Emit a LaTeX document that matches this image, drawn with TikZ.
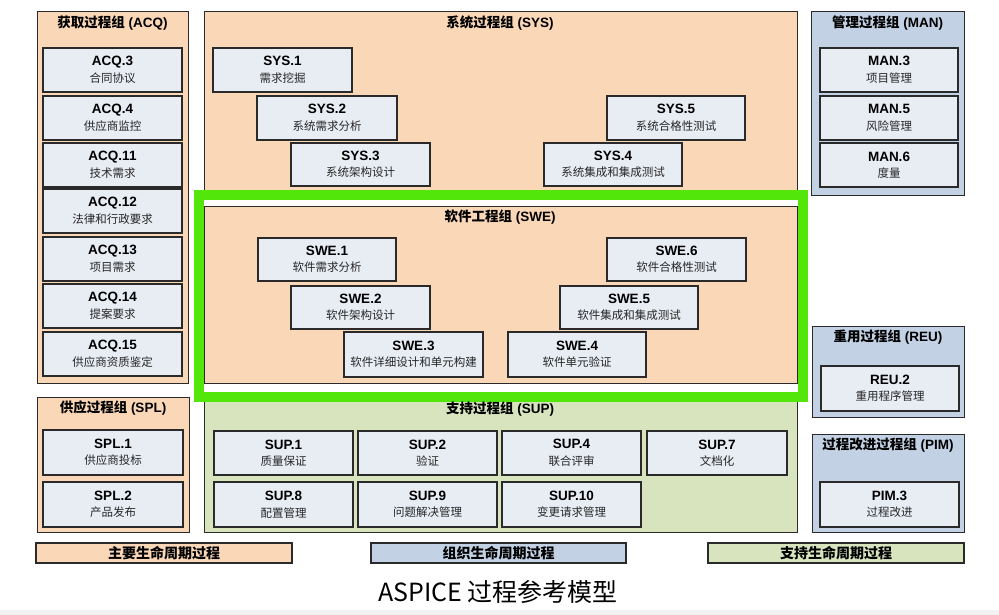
\documentclass[tikz,border=0pt]{standalone}
\usepackage{fontspec}
\setmainfont{Liberation Sans}
\newfontfamily\cjk{Noto Sans CJK SC}
\definecolor{peach}{HTML}{FAD7B7}
\definecolor{grpblue}{HTML}{C2D1E3}
\definecolor{grpgreen}{HTML}{D8E4BD}
\definecolor{inbox}{HTML}{E8EDF4}
\definecolor{frameg}{HTML}{52E60A}
\definecolor{edge}{HTML}{2A2A2A}
\definecolor{strip}{HTML}{F2F2F2}
\tikzset{
  pbox/.style={draw=edge, line width=1.3pt, fill=inbox, inner sep=0pt, align=center,
    font=\fontsize{13.5}{16.5}\selectfont},
  gbox/.style={draw=edge, line width=1pt, inner sep=0pt},
  gtitle/.style={inner sep=0pt, font=\fontsize{13.5}{16}\selectfont},
  legbox/.style={draw=edge, line width=1.2pt, inner sep=0pt,
    font=\cjk\bfseries\fontsize{14}{16}\selectfont},
}
\newcommand\pbox[7]{\node[pbox, minimum width={#4-#2}, minimum height={#5-#3}] (#1)
  at ({(#2+#4)/2},{(#3+#5)/2}) {{\bfseries #6}\\{\cjk\fontsize{11.5}{16.5}\selectfont\color{black!85} #7}};}
\newcommand\gbox[6]{\node[gbox, fill=#6, minimum width={#4-#2}, minimum height={#5-#3}] (#1)
  at ({(#2+#4)/2},{(#3+#5)/2}) {};}
\newcommand\gtitle[4]{\node[gtitle] (#1) at (#2,#3) {#4};}
\newcommand\grp[2]{{\cjk\bfseries #1} {\bfseries (#2)}}
\begin{document}
\begin{tikzpicture}[x=1pt,y=-1pt]
\useasboundingbox (0,0) rectangle (999,615);
\fill[white] (0,0) rectangle (999,615);
\fill[strip] (0,610) rectangle (999,615);

% group boxes
\gbox{acq}{37}{12}{188}{383}{peach}
\gbox{sys}{204}{12}{797}{395}{peach}
\gbox{man}{811}{12}{964}{195}{grpblue}
\gbox{reu}{812}{326}{964}{417}{grpblue}
\gbox{pim}{812}{434}{964}{532}{grpblue}
\gbox{spl}{37}{397}{189}{532}{peach}
\gbox{sup}{204}{397}{797}{532}{grpgreen}

% highlight frame
\node[draw=frameg, line width=10pt, fill=white, inner sep=0pt,
  minimum width=604.5pt, minimum height=202pt] (frame) at (500.75,296) {};
\gbox{swe}{204}{206}{797}{383}{peach}

% group titles
\gtitle{acqt}{112.5}{23}{\grp{获取过程组}{ACQ}}
\gtitle{syst}{500}{23}{\grp{系统过程组}{SYS}}
\gtitle{mant}{887.5}{23}{\grp{管理过程组}{MAN}}
\gtitle{swet}{500}{217}{\grp{软件工程组}{SWE}}
\gtitle{splt}{113}{408}{\grp{供应过程组}{SPL}}
\gtitle{supt}{500}{409}{\grp{支持过程组}{SUP}}
\gtitle{reut}{888}{337}{\grp{重用过程组}{REU}}
\gtitle{pimt}{888}{445}{\grp{过程改进过程组}{PIM}}

% ACQ
\pbox{acq3}{43}{48}{182}{92}{ACQ.3}{合同协议}
\pbox{acq4}{43}{96}{182}{140}{ACQ.4}{供应商监控}
\pbox{acq11}{43}{143}{182}{187}{ACQ.11}{技术需求}
\pbox{acq12}{43}{189}{182}{233}{ACQ.12}{法律和行政要求}
\pbox{acq13}{43}{237}{182}{281}{ACQ.13}{项目需求}
\pbox{acq14}{43}{284}{182}{328}{ACQ.14}{提案要求}
\pbox{acq15}{43}{332}{182}{376}{ACQ.15}{供应商资质鉴定}

% SYS
\pbox{sys1}{213}{48}{352}{92}{SYS.1}{需求挖掘}
\pbox{sys2}{257}{96}{397}{140}{SYS.2}{系统需求分析}
\pbox{sys3}{291}{143}{430}{186}{SYS.3}{系统架构设计}
\pbox{sys4}{544}{143}{682}{186}{SYS.4}{系统集成和集成测试}
\pbox{sys5}{607}{96}{745}{140}{SYS.5}{系统合格性测试}

% MAN
\pbox{man3}{820}{48}{958}{92}{MAN.3}{项目管理}
\pbox{man5}{820}{96}{958}{140}{MAN.5}{风险管理}
\pbox{man6}{820}{143}{958}{187}{MAN.6}{度量}

% SWE
\pbox{swe1}{258}{238}{396}{281}{SWE.1}{软件需求分析}
\pbox{swe2}{291}{286}{430}{329}{SWE.2}{软件架构设计}
\pbox{swe3}{344}{332}{483}{377}{SWE.3}{软件详细设计和单元构建}
\pbox{swe4}{508}{332}{646}{377}{SWE.4}{软件单元验证}
\pbox{swe5}{560}{286}{698}{329}{SWE.5}{软件集成和集成测试}
\pbox{swe6}{607}{238}{746}{281}{SWE.6}{软件合格性测试}

% REU, PIM
\pbox{reu2}{821}{366}{959}{411}{REU.2}{重用程序管理}
\pbox{pim3}{820}{482}{959}{527}{PIM.3}{过程改进}

% SPL
\pbox{spl1}{43}{430}{183}{475}{SPL.1}{供应商投标}
\pbox{spl2}{43}{482}{183}{527}{SPL.2}{产品发布}

% SUP
\pbox{sup1}{214}{431}{353}{475}{SUP.1}{质量保证}
\pbox{sup2}{358}{431}{497}{475}{SUP.2}{验证}
\pbox{sup4}{502}{431}{641}{475}{SUP.4}{联合评审}
\pbox{sup7}{647}{431}{787}{475}{SUP.7}{文档化}
\pbox{sup8}{214}{482}{353}{527}{SUP.8}{配置管理}
\pbox{sup9}{358}{482}{497}{527}{SUP.9}{问题解决管理}
\pbox{sup10}{502}{482}{641}{527}{SUP.10}{变更请求管理}

% legend
\node[legbox, fill=peach, minimum width=256pt, minimum height=20pt] (lg1) at (164,553) {主要生命周期过程};
\node[legbox, fill=grpblue, minimum width=255pt, minimum height=20pt] (lg2) at (498.5,553) {组织生命周期过程};
\node[legbox, fill=grpgreen, minimum width=256pt, minimum height=20pt] (lg3) at (836,553) {支持生命周期过程};

% caption
\node[inner sep=0pt, font=\cjk\fontsize{25}{28}\selectfont] (cap) at (498,592) {ASPICE 过程参考模型};
\end{tikzpicture}
\end{document}
